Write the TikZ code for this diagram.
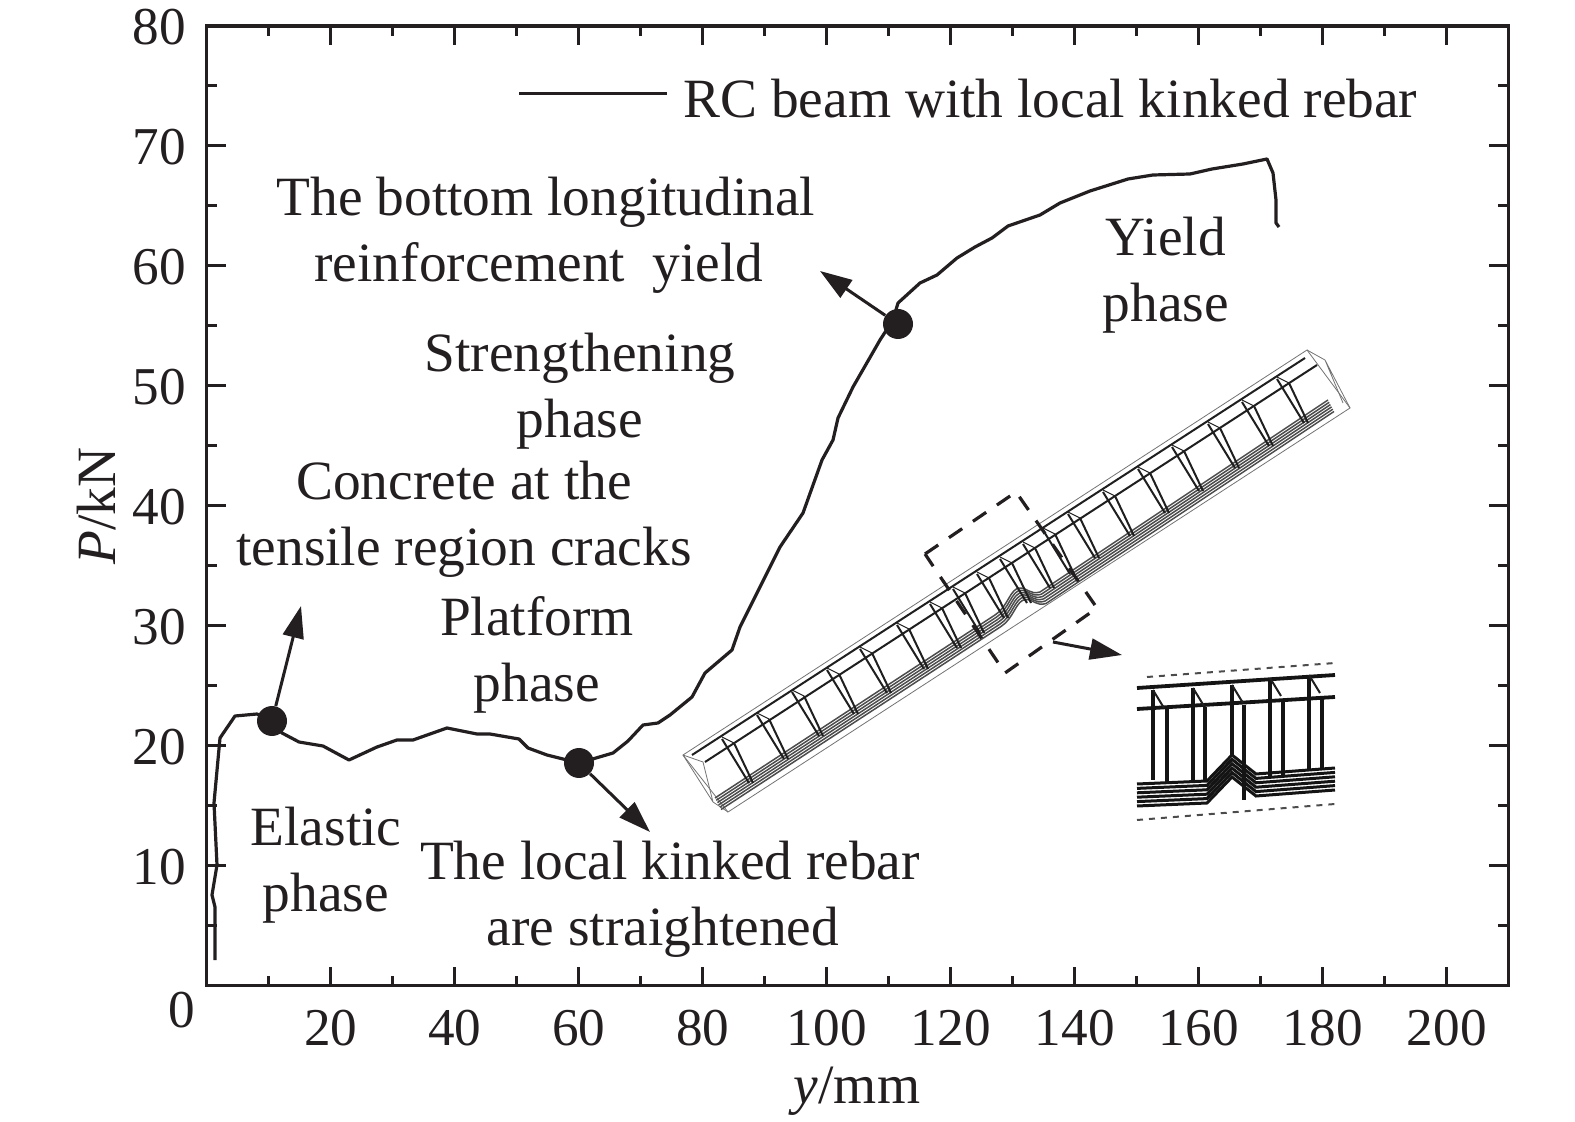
\documentclass[tikz,border=0pt]{standalone}
\usepackage{fontspec}
\setmainfont{Liberation Serif}
\usetikzlibrary{arrows.meta}
\definecolor{inkc}{HTML}{231F20}
\tikzset{
    axisline/.style={line width=1.65pt,color=inkc},
    tickline/.style={line width=1.5pt,color=inkc},
    curveline/.style={line width=1.6pt,color=inkc,line join=round},
    note/.style={inner sep=0pt,align=center,text=inkc,font=\fontsize{27.7}{33}\selectfont},
    ticklabel/.style={inner sep=0pt,text=inkc,font=\fontsize{26.6}{33}\selectfont},
    joint/.style={circle,fill=inkc,minimum size=15pt,inner sep=0pt},
    pointer/.style={-{Triangle[length=16pt,width=10.5pt]},line width=1.5pt,color=inkc},
    shell/.style={line width=0.4pt,color=black!55},
    rebar/.style={line width=1pt,color=black!88,line join=round},
    bundle/.style={line width=0.75pt,color=black!70,line join=round},
    framebox/.style={line width=1.6pt,color=inkc,dash pattern=on 8pt off 6.5pt},
    zoombar/.style={line width=1.9pt,color=black!92}
}

\begin{document}
\begin{tikzpicture}[x=0.5pt,y=-0.5pt]
            \useasboundingbox (0,0) rectangle (1575,1122);
            \draw[axisline] (206.7,26) rectangle (1508.3,985.7);
            \foreach \x in {20,40,...,200} {
                \draw[tickline] (206.7+6.2*\x,985.7)--++(0,-19);
                \draw[tickline] (206.7+6.2*\x,26)--++(0,19);
            }
            \foreach \x in {10,30,...,190} {
                \draw[tickline] (206.7+6.2*\x,985.7)--++(0,-10);
                \draw[tickline] (206.7+6.2*\x,26)--++(0,10);
            }
            \foreach \y in {10,20,...,70} {
                \draw[tickline] (206.7,985.7-12*\y)--++(19,0);
                \draw[tickline] (1508.3,985.7-12*\y)--++(-19,0);
            }
            \foreach \y in {5,15,...,75} {
                \draw[tickline] (206.7,985.7-12*\y)--++(10,0);
                \draw[tickline] (1508.3,985.7-12*\y)--++(-10,0);
            }
            \foreach \x in {20,40,...,200}
                \node[ticklabel,anchor=base] (xt\x) at (206.7+6.2*\x,1045) {\x};
            \foreach \y in {10,20,...,80}
                \node[ticklabel,anchor=base east] (yt\y) at (186,1004.5-12*\y) {\y};
            \node[ticklabel,anchor=base east] (yt0) at (195,1027) {0};
            \node[note,anchor=base] (xname) at (857,1103) {\textit{y}/mm};
            \node[note,rotate=90] (yname) at (97,506) {\textit{P}/kN};

            \draw[curveline] (215,960)--(215,907)--(212,895)--(217,865)--(214,803)--(220,738)--(235,716)
                --(257,714)--(272,721)--(282,733)--(299,742)--(323,746)--(349,760)--(377,747)--(397,740)
                --(413,740)--(447,728)--(477,734)--(490,734)--(519,739)--(528,748)--(547,755)--(579,763)
                --(613,753)--(628,741)--(643,725)--(658,723)--(670,715)--(692,697)--(705,673)--(732,650)
                --(740,627)--(780,547)--(803,513)--(822,460)--(833,440)--(838,418)--(853,387)--(880,340)
                --(893,320)--(898,303)--(920,283)--(937,275)--(957,258)--(975,247)--(992,238)--(1008,226)
                --(1040,215)--(1060,203)--(1090,191)--(1128,179)--(1153,175)--(1190,174)--(1212,169)
                --(1243,164)--(1267,159)--(1273,173)--(1276,200)--(1276,223)--(1279,227);

            \node[joint] (crack) at (272,721) {};
            \node[joint] (straight) at (579,763) {};
            \node[joint] (yield) at (898,324) {};
            \coordinate (cracktip) at (301,606);
            \coordinate (straighttip) at (650,832);
            \coordinate (yieldtip) at (820,271);
            \draw[pointer] (crack)--(cracktip);
            \draw[pointer] (straight)--(straighttip);
            \draw[pointer] (yield)--(yieldtip);

            \coordinate (legstart) at (519,94);
            \coordinate (legend) at (667,94);
            \draw[curveline,line width=1.5pt] (legstart)--(legend);
            \node[note,anchor=base west] (legtext) at (683,118) {RC beam with local kinked rebar};
            \node[note] (nbottom) at (546,235) {The bottom longitudinal\\reinforcement~ yield\hspace*{7pt}};
            \node[note] (nyield) at (1166,275) {Yield\\phase};
            \node[note] (nstrength) at (580,391) {Strengthening\\phase};
            \node[note] (nconcrete) at (464,519) {Concrete at the\\tensile region cracks};
            \node[note] (nplatform) at (537,655) {Platform\\phase};
            \node[note] (nelastic) at (326,865) {Elastic\\phase};
            \node[note] (nkinked) at (670,899) {The local kinked rebar\\are straightened\hspace*{7pt}};

            \draw[shell] (683,755)--(1307,350)--(1350,408)--(728,812)--cycle;
            \draw[shell] (683,755)--(703,762)--(713,802)--(728,812) (683,755)--(713,802);
            \draw[shell] (1307,350)--(1325,360)--(1350,408) (1325,360)--(1343,403);
            \draw[rebar] (692,755)--(1305,358);
            \draw[rebar] (705,762)--(1317,365);
            \foreach \k in {0,...,5}
                \draw[bundle,shift={(1.2*\k,2.3*\k)}] (715,798)--(995,615) .. controls (1008,607) and (1010,588) .. (1020,588)
                    .. controls (1028,588) and (1030,595) .. (1040,592)--(1328,400);
            \foreach \tx/\ty in {722/737,757/713,792/690,827/668,860/647,897/623,930/602,953/587,977/572,1000/557,
                1023/542,1043/528,1068/512,1103/490,1138/467,1172/445,1208/422,1242/400,1277/377} {
                \draw[rebar] (\tx,\ty+2)--++(27,44);
                \draw[rebar] (\tx+12,\ty+6)--++(19,40);
                \draw[rebar,line width=0.5pt] (\tx,\ty)--++(12,6);
            }
            \draw[framebox] (925,554)--(1016,492)--(1097,608)--(1005,673)--cycle;
            \coordinate (framefoot) at (1053,642);
            \coordinate (zoomhead) at (1122,655);
            \draw[pointer] (framefoot)--(zoomhead);

            \draw[line width=1pt,dashed,color=black!70] (1147,677)--(1335,663);
            \draw[line width=1pt,dashed,color=black!70] (1137,820)--(1335,804);
            \draw[zoombar] (1137,688)--(1335,675);
            \draw[zoombar] (1137,709)--(1335,697);
            \foreach \vx/\vt/\vb in {1153/690/780,1167/708/782,1193/688/780,1205/707/780,1232/685/756,
                1244/705/800,1270/678/777,1283/702/777,1309/675/770,1322/698/770}
                \draw[zoombar] (\vx,\vt)--(\vx,\vb);
            \foreach \lx/\ly in {1153/690,1193/688,1232/685,1270/678,1309/675}
                \draw[rebar] (\lx,\ly)--++(11,18);
            \foreach \k in {0,...,5}
                \draw[zoombar,line width=1.5pt,shift={(0,4.4*\k)}] (1137,784)--(1207,781)--(1232,755)--(1256,774)--(1335,768);
\end{tikzpicture}
\end{document}
